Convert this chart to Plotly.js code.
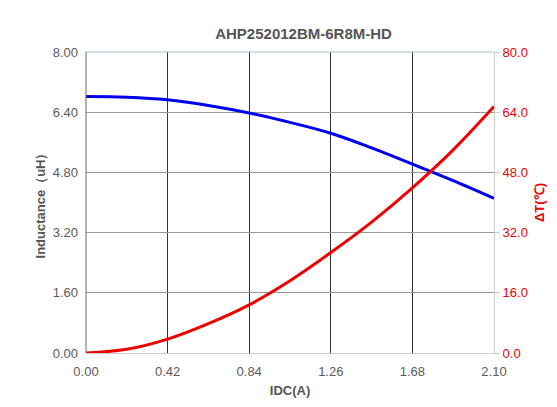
<!DOCTYPE html>
<html><head><meta charset="utf-8">
<script src="https://cdn.plot.ly/plotly-3.0.1.min.js"></script>
<style>html,body{margin:0;padding:0;background:#fff}#c{width:557px;height:407px}</style>
</head><body><div id="c"></div>
<script>
const currentA = [0, 0.21, 0.42, 0.63, 0.84, 1.05, 1.26, 1.47, 1.68, 1.89, 2.10];
const inductance = [6.82, 6.80, 6.73, 6.58, 6.38, 6.13, 5.84, 5.45, 5.02, 4.58, 4.11];
const deltaT = [0, 1.0, 3.7, 7.8, 12.8, 19.2, 26.7, 34.8, 43.9, 54.0, 65.5];
const xTicks = [0, 0.42, 0.84, 1.26, 1.68, 2.10];
const yTicks = [0, 1.6, 3.2, 4.8, 6.4, 8.0];
const y2Ticks = [0, 16, 32, 48, 64, 80];

const traces = [
  {x: currentA, y: inductance, type: 'scatter', mode: 'lines', line: {color: '#0000ee', width: 3, shape: 'spline'}, yaxis: 'y', cliponaxis: false},
  {x: currentA, y: deltaT, type: 'scatter', mode: 'lines', line: {color: '#ee0000', width: 3, shape: 'spline'}, yaxis: 'y2', cliponaxis: false}
];
const FF = 'Liberation Sans, Arial, sans-serif';
const tf = {family: FF, size: 13, color: '#5a5a5a'};
const layout = {
  width: 557, height: 407,
  margin: {l: 86, r: 63, t: 52, b: 54},
  paper_bgcolor: '#fff', plot_bgcolor: '#fff',
  showlegend: false,
  title: {text: '<b>AHP252012BM-6R8M-HD</b>', x: 0.545, xanchor: 'center', y: 0.917, yanchor: 'middle',
          font: {family: FF, size: 15, color: '#555'}},
  xaxis: {range: [0, 2.1], tickvals: xTicks, ticktext: xTicks.map(v => v.toFixed(2)),
          showgrid: true, gridcolor: '#333', gridwidth: 1, zeroline: false,
          showline: true, linecolor: '#ccc', linewidth: 1, ticks: '', tickfont: tf, ticklabelstandoff: 6,
          title: {text: '<b>IDC(A)</b>', font: {family: FF, size: 13, color: '#555'}, standoff: 8}},
  yaxis: {range: [0, 8], tickvals: yTicks, ticktext: yTicks.map(v => v.toFixed(2)),
          showgrid: true, gridcolor: '#999', gridwidth: 1, zeroline: false,
          showline: false, ticks: '', tickfont: tf, ticklabelstandoff: 7,
          title: {text: '<b>Inductance（uH）</b>', font: {family: FF, size: 13, color: '#555'}, standoff: 4}},
  yaxis2: {range: [0, 80], tickvals: y2Ticks, ticktext: y2Ticks.map(v => v.toFixed(1)),
           overlaying: 'y', side: 'right', showgrid: false, zeroline: false,
           showline: true, linecolor: '#ccc', linewidth: 1, ticks: 'outside', ticklen: 5, tickcolor: '#ccc',
           tickfont: {family: FF, size: 13, color: '#ee0000'},
           title: {text: '<b>ΔT(℃)</b>', font: {family: FF, size: 13, color: '#ee0000'}, standoff: 7}},
  shapes: [
    {type: 'line', xref: 'paper', yref: 'paper', x0: 0, x1: 1, y0: 1, y1: 1, line: {color: '#a8bcd0', width: 1}},
    {type: 'line', xref: 'paper', yref: 'paper', x0: 0, x1: 0, y0: 0, y1: 1, line: {color: '#666', width: 1}}
  ]
};
Plotly.newPlot('c', traces, layout, {displayModeBar: false, staticPlot: true});
</script></body></html>
